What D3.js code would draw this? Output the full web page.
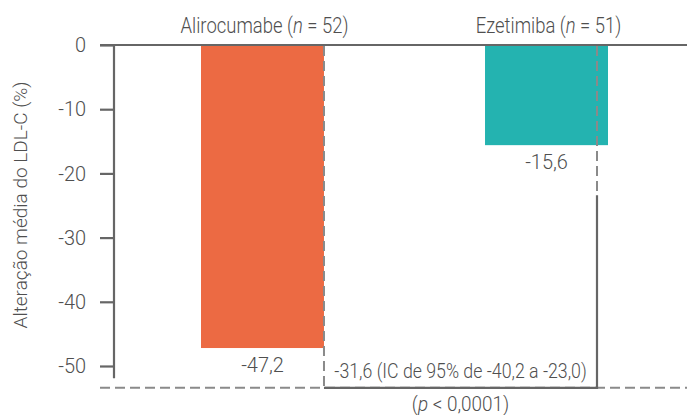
<!DOCTYPE html>
<html>
<head>
<meta charset="utf-8">
<script src="https://cdn.jsdelivr.net/npm/d3@7"></script>
<style>
  body { margin: 0; background: #fff; }
  svg text { font-family: Roboto, "Liberation Sans", sans-serif; font-weight: 300; fill: #4f4f4f; }
</style>
</head>
<body>
<svg id="chart" width="687" height="415"></svg>
<script>
const groups = ["Alirocumabe", "Ezetimiba"];
const groupN = [52, 51];
const changes = [-47.2, -15.6];
const yTicks = [0, -10, -20, -30, -40, -50];
const diffLabel = "-31,6 (IC de 95% de -40,2 a -23,0)";
const pLabel = "p";
const pValue = " < 0,0001)";
const yTitle = "Alteração média do LDL-C (%)";

const colors = ["#ec6a43", "#24b3b0"];
const axisColor = "#666";
const dashColor = "#8a8a8a";

const svg = d3.select('#chart');
const fmt = v => String(v).replace('.', ',');

// condensed look: squeeze text horizontally around its anchor
function place(sel, x, y, k) {
    return sel.attr('x', 0).attr('y', 0)
        .attr('transform', `translate(${x},${y}) scale(${k},1)`);
}

const y = d3.scaleLinear()
    .domain([0, -50])
    .range([45, 366]);

const x = d3.scaleBand()
    .domain(groups)
    .range([130, 679])
    .paddingInner(0.567)
    .paddingOuter(0.25);

const bottomY = y(-53.4);

// y axis
const yAxis = svg.append('g')
    .attr('transform', 'translate(114,0)')
    .call(d3.axisLeft(y).tickValues(yTicks).tickSize(14).tickFormat(d => d));
yAxis.select('.domain').remove();
yAxis.selectAll('.tick line').attr('stroke', axisColor).attr('stroke-width', 2.2);
yAxis.selectAll('.tick text')
    .style('font-size', '21px')
    .attr('fill', null)
    .attr('x', 0)
    .attr('transform', 'translate(-28,0) scale(0.95,1)');

svg.append('line')
    .attr('x1', 114).attr('x2', 114)
    .attr('y1', y(0)).attr('y2', y(-51.9))
    .attr('stroke', axisColor).attr('stroke-width', 2.2);

// bars
const data = groups.map((g, i) => ({group: g, n: groupN[i], value: changes[i], color: colors[i]}));

svg.selectAll('.bar')
    .data(data)
    .join('rect')
        .attr('class', 'bar')
        .attr('x', d => x(d.group))
        .attr('width', x.bandwidth())
        .attr('y', y(0))
        .attr('height', d => y(d.value) - y(0))
        .attr('fill', d => d.color);

// zero line
svg.append('line')
    .attr('x1', 100).attr('x2', 687)
    .attr('y1', y(0)).attr('y2', y(0))
    .attr('stroke', axisColor).attr('stroke-width', 2.2);

// dashed guide lines
const leftX = x(groups[0]) + x.bandwidth();
const rightX = x(groups[1]) + x.bandwidth() - 11;

svg.append('line')
    .attr('x1', 100).attr('x2', 687)
    .attr('y1', bottomY).attr('y2', bottomY)
    .attr('stroke', dashColor).attr('stroke-width', 2)
    .attr('stroke-dasharray', '10,5');

svg.append('line')
    .attr('x1', leftX).attr('x2', leftX)
    .attr('y1', y(0) + 1).attr('y2', bottomY)
    .attr('stroke', dashColor).attr('stroke-width', 2)
    .attr('stroke-dasharray', '10,5');

svg.append('line')
    .attr('x1', rightX).attr('x2', rightX)
    .attr('y1', y(0) + 1).attr('y2', y(-23.4))
    .attr('stroke', dashColor).attr('stroke-width', 2)
    .attr('stroke-dasharray', '10,5');

// bracket
svg.append('path')
    .attr('d', `M${leftX},${bottomY}H${rightX}V${y(-23.4)}`)
    .attr('fill', 'none')
    .attr('stroke', axisColor).attr('stroke-width', 2.2);

// group titles
svg.selectAll('.title')
    .data(data)
    .join('text')
        .attr('class', 'title')
        .attr('text-anchor', 'middle')
        .style('font-size', '22px')
        .each(function(d) {
            const t = d3.select(this);
            place(t, x(d.group) + x.bandwidth() / 2 + 2, 33, 0.84);
            t.append('tspan').text(d.group + ' (');
            t.append('tspan').style('font-style', 'italic').text('n');
            t.append('tspan').text(' = ' + d.n + ')');
        });

// value labels
svg.selectAll('.value')
    .data(data)
    .join('text')
        .attr('class', 'value')
        .attr('text-anchor', 'middle')
        .style('font-size', '21px')
        .text(d => fmt(d.value))
        .each(function(d) {
            place(d3.select(this), x(d.group) + x.bandwidth() / 2, y(d.value) + 24, 0.95);
        });

// difference labels
const midX = (leftX + rightX) / 2;
place(svg.append('text'), midX, bottomY - 10, 0.845)
    .attr('text-anchor', 'middle')
    .style('font-size', '21px')
    .text(diffLabel);

const pText = place(svg.append('text'), midX, 411, 0.9)
    .attr('text-anchor', 'middle')
    .style('font-size', '21px');
pText.append('tspan').text('(');
pText.append('tspan').style('font-style', 'italic').text(pLabel);
pText.append('tspan').text(pValue);

// y axis title
svg.append('text')
    .attr('transform', 'translate(27,205) rotate(-90)')
    .attr('text-anchor', 'middle')
    .style('font-size', '19px')
    .text(yTitle);
</script>
</body>
</html>
